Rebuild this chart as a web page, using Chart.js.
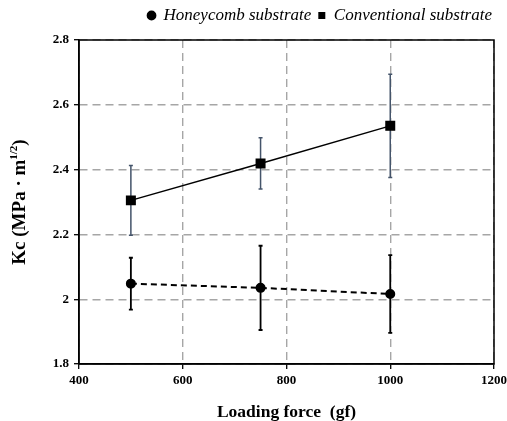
<!DOCTYPE html>
<html>
<head>
<meta charset="utf-8">
<script src="https://cdn.jsdelivr.net/npm/chart.js@4/dist/chart.umd.min.js"></script>
<style>
  html, body { margin: 0; padding: 0; background: #fff; }
  #wrap { width: 507px; height: 421px; }
</style>
</head>
<body>
<div id="wrap"><canvas id="chart" width="507" height="421"></canvas></div>
<script>
const loads = [500, 750, 1000];
const honeycomb = [2.048, 2.035, 2.016];
const honeycombErr = [0.08, 0.13, 0.12];
const conventional = [2.305, 2.419, 2.535];
const conventionalErr = [0.108, 0.079, 0.159];

const serif = "'Liberation Serif', 'Times New Roman', serif";

// error bars, drawn under the markers
const errorBars = {
  id: "errorBars",
  beforeDatasetsDraw(chart) {
    const { ctx, scales } = chart;
    ctx.save();
    chart.data.datasets.forEach((ds) => {
      ctx.strokeStyle = ds.errColor;
      ctx.lineWidth = ds.errWidth;
      ds.data.forEach((p, i) => {
        const x = scales.x.getPixelForValue(p.x);
        const yTop = scales.y.getPixelForValue(p.y + ds.err[i]);
        const yBot = scales.y.getPixelForValue(p.y - ds.err[i]);
        ctx.beginPath();
        ctx.moveTo(x, yTop);
        ctx.lineTo(x, yBot);
        ctx.moveTo(x - 2, yTop);
        ctx.lineTo(x + 2, yTop);
        ctx.moveTo(x - 2, yBot);
        ctx.lineTo(x + 2, yBot);
        ctx.stroke();
      });
    });
    ctx.restore();
  },
};

// legend sits high, the plot starts lower: stretch the legend box
const legendHeight = {
  id: "legendHeight",
  beforeLayout(chart) {
    const lg = chart.legend;
    if (lg && !lg._stretched) {
      const fit = lg.fit.bind(lg);
      lg.fit = function () {
        fit();
        this.height = 40;
      };
      lg._stretched = true;
    }
  },
};

// frame round the plot and the y title with its superscript
const frame = {
  id: "frame",
  afterDraw(chart) {
    const { ctx, chartArea: a } = chart;
    ctx.save();
    ctx.strokeStyle = "#000";
    ctx.lineWidth = 1.5;
    ctx.strokeRect(a.left, a.top, a.right - a.left, a.bottom - a.top);

    ctx.translate(20, (a.top + a.bottom) / 2);
    ctx.rotate(-Math.PI / 2);
    ctx.fillStyle = "#000";
    ctx.textBaseline = "middle";
    const big = "bold 19px " + serif;
    const small = "bold 11px " + serif;
    const parts = [["Kc (MPa · m", big, 0], ["1/2", small, -6], [")", big, 0]];
    let w = 0;
    parts.forEach(([t, f]) => { ctx.font = f; w += ctx.measureText(t).width; });
    let x = -w / 2;
    parts.forEach(([t, f, dy]) => {
      ctx.font = f;
      ctx.fillText(t, x, dy);
      x += ctx.measureText(t).width;
    });
    ctx.restore();
  },
};

const gridOpts = {
  color: "#a6a6a6",
  lineWidth: 1.4,
  tickColor: "#000",
  tickBorderDash: [],
  tickLength: 5,
  tickWidth: 1.3,
};

new Chart(document.getElementById("chart"), {
  type: "line",
  data: {
    datasets: [
      {
        label: "Honeycomb substrate",
        data: loads.map((x, i) => ({ x, y: honeycomb[i] })),
        err: honeycombErr,
        errColor: "#000",
        errWidth: 1.8,
        borderColor: "#000",
        backgroundColor: "#000",
        borderWidth: 2,
        borderDash: [6, 4],
        pointStyle: "circle",
        pointRadius: 4,
        tension: 0,
      },
      {
        label: "Conventional substrate",
        data: loads.map((x, i) => ({ x, y: conventional[i] })),
        err: conventionalErr,
        errColor: "#44546a",
        errWidth: 1.5,
        borderColor: "#000",
        backgroundColor: "#000",
        borderWidth: 1.5,
        pointStyle: "rect",
        pointRadius: 6,
        tension: 0,
      },
    ],
  },
  options: {
    responsive: false,
    animation: false,
    layout: { padding: { top: 0, right: 8, bottom: 0, left: 0 } },
    plugins: {
      tooltip: { enabled: false },
      legend: {
        position: "top",
        align: "end",
        labels: {
          usePointStyle: true,
          boxWidth: 7,
          boxHeight: 5.5,
          padding: 7,
          color: "#000",
          font: { family: serif, size: 17, style: "italic", lineHeight: 1 },
        },
      },
    },
    scales: {
      x: {
        type: "linear",
        min: 400,
        max: 1200,
        ticks: {
          stepSize: 200,
          color: "#000",
          font: { family: serif, size: 13, weight: "bold" },
          padding: 4,
          maxRotation: 0,
          callback: (v) => String(v),
        },
        grid: gridOpts,
        border: { color: "#000", width: 1.5, dash: [8, 5] },
        title: {
          display: true,
          text: "Loading force  (gf)",
          color: "#000",
          font: { family: serif, size: 17.5, weight: "bold", lineHeight: 1 },
          padding: { top: 6, bottom: 0 },
        },
        afterFit: (s) => {
          s.height = 57;
          s.paddingRight = 13;
        },
      },
      y: {
        min: 1.8,
        max: 2.8,
        ticks: {
          stepSize: 0.2,
          color: "#000",
          font: { family: serif, size: 13, weight: "bold" },
          padding: 5,
          callback: (v) => String(Math.round(v * 10) / 10),
        },
        grid: gridOpts,
        border: { color: "#000", width: 1.5, dash: [8, 5] },
        afterFit: (s) => { s.width = 79; },
      },
    },
  },
  plugins: [legendHeight, errorBars, frame],
});
</script>
</body>
</html>
